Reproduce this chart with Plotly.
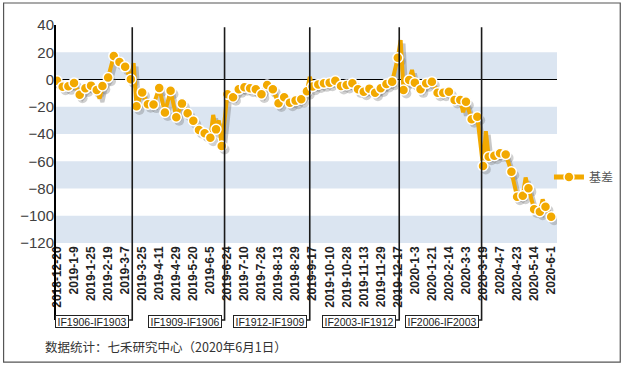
import plotly.graph_objects as go

# ---- data -------------------------------------------------------------
tick_labels = ["2018-12-20", "2019-1-9", "2019-1-25", "2019-2-19", "2019-3-7",
               "2019-3-25", "2019-4-11", "2019-4-29", "2019-5-20", "2019-6-5",
               "2019-6-24", "2019-7-10", "2019-7-26", "2019-8-13", "2019-8-29",
               "2019-9-17", "2019-10-10", "2019-10-28", "2019-11-13", "2019-11-29",
               "2019-12-17", "2020-1-3", "2020-1-21", "2020-2-14", "2020-3-3",
               "2020-3-19", "2020-4-7", "2020-4-23", "2020-5-14", "2020-6-1"]
tick_pos = list(range(0, 349, 12))          # trading-day index of each label

# sampled basis values (marker points, every 4 trading days)
marker_pos = list(range(0, 349, 4))
marker_val = [-1, -5.3, -5, -2.5, -11.2, -6.5, -4.5, -7.7, -4.8, 1.4,
              17.3, 12.9, 9.3, 0.2, -19.7, -9.5, -18.1, -18.4, -6.3, -24.2,
              -8.2, -27.7, -17.7, -24.8, -30.2, -37, -39.5, -42.7, -36.6, -48.8,
              -10.9, -13, -7.2, -5.7, -6.5, -7.2, -10.9, -4, -7.2, -17.5,
              -13, -17, -15.5, -14.5, -8.6, -5.2, -3.6, -2.8, -2.3, -0.9,
              -4.8, -4, -2.8, -7.2, -9, -6.7, -9.7, -6.5, -3.3, -1.6,
              16, -7.7, -0.4, -2.3, -7.2, -2.8, -1.6, -9.7, -9.7, -9,
              -15, -15, -16.3, -29.2, -27.3, -63.5, -56.7, -55.9, -54.2, -55,
              -67.7, -86, -85.3, -79.9, -95.3, -97, -93.4, -100.7]

# intermediate daily values visible only in the line (spikes)
extra_pos = [30, 54, 110, 114, 118, 178, 242, 250, 286, 302, 330, 342]
extra_val = [-14, 12, -26, -30, -30, 2, 29, 7, -24, -38, -72, -88]

roll_pos = [53, 118, 178, 241, 299]
roll_labels = ["IF1906-IF1903", "IF1909-IF1906", "IF1912-IF1909",
               "IF2003-IF1912", "IF2006-IF2003"]

series_name = "基差"
footnote = "数据统计：七禾研究中心（2020年6月1日）"

# ---- styling ----------------------------------------------------------
ORANGE = "#F2A900"
STRIPE = "#DBE5F1"
stripes = [(0, 20), (-40, -20), (-80, -60), (-120, -100)]

pts = sorted(zip(marker_pos + extra_pos, marker_val + extra_val))
line_x = [p[0] for p in pts]
line_y = [p[1] for p in pts]

SH_DX, SH_DY = 2.0, -2.6   # shadow offset (data units)

fig = go.Figure()
# shadow
fig.add_trace(go.Scatter(x=[v + SH_DX for v in line_x], y=[v + SH_DY for v in line_y],
                         mode="lines", line=dict(color="rgba(110,110,110,0.38)", width=4),
                         hoverinfo="skip", showlegend=False))
fig.add_trace(go.Scatter(x=[v + SH_DX for v in marker_pos], y=[v + SH_DY for v in marker_val],
                         mode="markers", marker=dict(color="rgba(110,110,110,0.32)", size=10),
                         hoverinfo="skip", showlegend=False))
# main line
fig.add_trace(go.Scatter(x=line_x, y=line_y, mode="lines",
                         line=dict(color=ORANGE, width=4), showlegend=False))
fig.add_trace(go.Scatter(x=marker_pos, y=marker_val, mode="markers",
                         marker=dict(color=ORANGE, size=10, line=dict(color="white", width=1.5)),
                         showlegend=False))
# legend entry
fig.add_trace(go.Scatter(x=[None], y=[None], mode="lines+markers", name=series_name,
                         line=dict(color=ORANGE, width=5),
                         marker=dict(color=ORANGE, size=10, line=dict(color="white", width=1.5))))

shapes = []
for lo, hi in stripes:
    shapes.append(dict(type="rect", xref="paper", yref="y", x0=0, x1=1, y0=lo, y1=hi,
                       fillcolor=STRIPE, line=dict(width=0), layer="below"))

Y_TOP, Y_BOT = 0.99, -0.353
# left axis line extended down to the label boxes
shapes.append(dict(type="line", xref="paper", yref="paper", x0=0, x1=0, y0=1.0, y1=Y_BOT,
                   line=dict(color="black", width=2)))
for p in roll_pos:
    shapes.append(dict(type="path", xref="x", yref="paper",
                       path=f"M {p},{Y_TOP} L {p},{Y_BOT} L {p-2.2},{Y_BOT}",
                       line=dict(color="#1a1a1a", width=1.6)))
# outer border
shapes.append(dict(type="rect", xref="paper", yref="paper",
                   x0=-0.1024, x1=1.126, y0=-0.546, y1=1.101,
                   line=dict(color="#555555", width=1.2)))

annotations = []
for p, lab in zip(roll_pos, roll_labels):
    annotations.append(dict(x=p, y=-0.358, xref="x", yref="paper", text=lab,
                            showarrow=False, xanchor="right", yanchor="middle", xshift=-3,
                            width=72, height=11, borderpad=0, borderwidth=1,
                            bordercolor="#222222", bgcolor="white",
                            font=dict(size=10.5, color="#222222",
                                      family="Liberation Sans, Arial, sans-serif")))
annotations.append(dict(x=-0.0236, y=-0.477, xref="paper", yref="paper", text=footnote,
                        showarrow=False, xanchor="left", yanchor="middle",
                        font=dict(size=12.5, color="#333333",
                                  family="Noto Sans CJK SC, sans-serif")))

fig.update_layout(
    width=631, height=365,
    margin=dict(l=55, r=68, t=25, b=122),
    paper_bgcolor="white", plot_bgcolor="white",
    font=dict(family="Liberation Sans, Arial, sans-serif", color="#333333"),
    shapes=shapes, annotations=annotations,
    legend=dict(x=0.984, y=0.303, xanchor="left", yanchor="middle",
                bgcolor="rgba(0,0,0,0)", itemwidth=30,
                font=dict(size=12, color="#555555", family="Noto Sans CJK SC, sans-serif")),
    xaxis=dict(range=[-1.4, 352.1], tickmode="array", tickvals=tick_pos, ticktext=tick_labels,
               tickangle=-90, showgrid=False, zeroline=False, showline=False, ticks="",
               tickfont=dict(size=12, color="#222222", weight="bold",
                             family="Liberation Sans, Arial, sans-serif")),
    yaxis=dict(range=[-120, 40], tickmode="array", tickvals=list(range(-120, 41, 20)),
               showgrid=False, zeroline=True, zerolinecolor="black", zerolinewidth=1,
               showline=False, ticks="",
               tickfont=dict(size=15, color="#404040",
                             family="Liberation Sans, Arial, sans-serif")),
)

fig.write_html("out.html", config={"displayModeBar": False},
               post_script="document.body.style.margin='0';document.body.style.overflow='hidden';")
